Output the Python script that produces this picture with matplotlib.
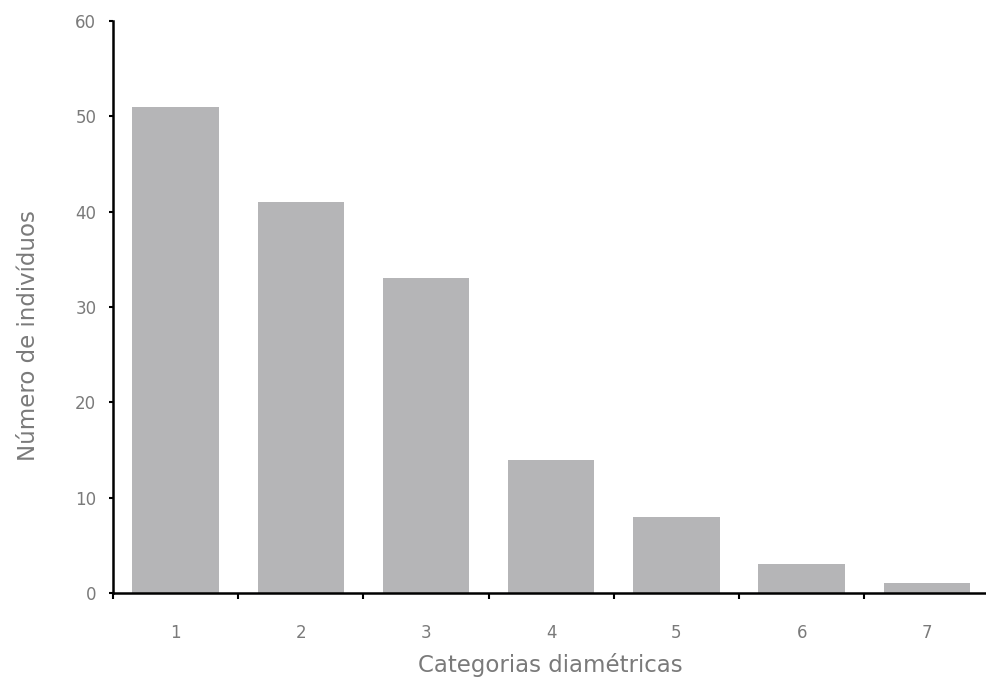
import matplotlib
matplotlib.use("Agg")
import matplotlib.pyplot as plt
import numpy as np

categories = [1, 2, 3, 4, 5, 6, 7]
individuals = [51, 41, 33, 14, 8, 3, 1]
y_ticks = [0, 10, 20, 30, 40, 50, 60]

TEXT = "#7a7a7a"
BAR = "#b5b5b7"

plt.rcParams["font.family"] = ["DejaVu Sans"]

fig = plt.figure(figsize=(9.87, 6.88), dpi=100)
ax = fig.add_axes([113 / 987, 95 / 688, (987 - 113) / 987, 572 / 688])

ax.bar(categories, individuals, width=0.69, color=BAR, edgecolor="none")

ax.set_xlim(0.5, 7.48)
ax.set_ylim(0, 60)

# category labels centred, tick marks between categories
ax.set_xticks(categories)
ax.set_xticklabels([str(c) for c in categories])
ax.set_xticks(np.arange(0.5, 7.0, 1.0), minor=True)
ax.tick_params(axis="x", which="major", length=0, pad=22, labelsize=12, labelcolor=TEXT)
ax.tick_params(axis="x", which="minor", length=4, width=1.5, direction="out", color="black")

ax.set_yticks(y_ticks)
ax.tick_params(axis="y", length=3, width=1.5, pad=9, labelsize=12, labelcolor=TEXT)

for side in ("top", "right"):
    ax.spines[side].set_visible(False)
for side in ("left", "bottom"):
    ax.spines[side].set_linewidth(1.8)

ax.set_xlabel("Categorias diamétricas", fontsize=16.5, color=TEXT, labelpad=8)
ax.set_ylabel("Número de indivíduos", fontsize=16.5, color=TEXT)
ax.yaxis.set_label_coords(-0.083, 0.45)

fig.savefig("out.png", dpi=100)
